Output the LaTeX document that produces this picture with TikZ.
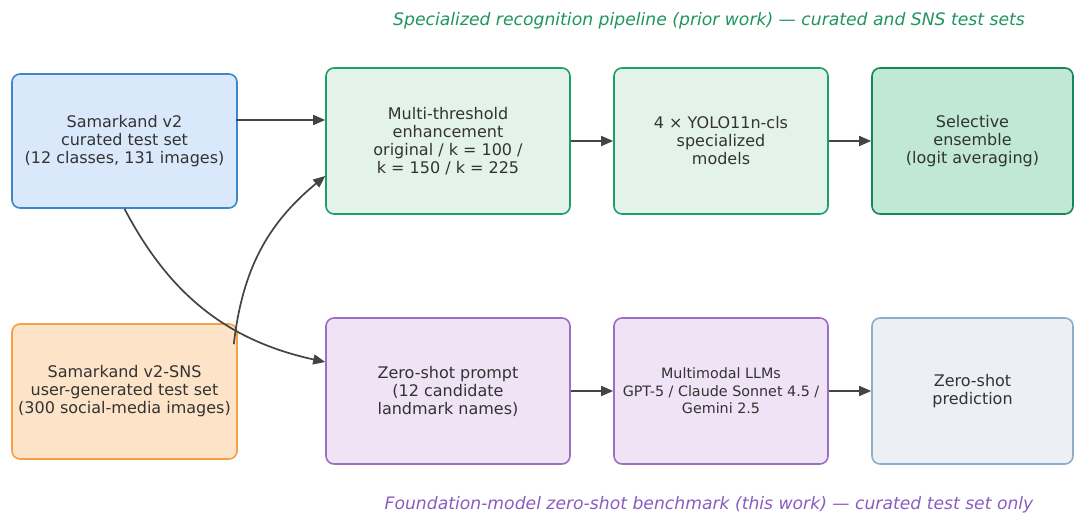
\documentclass[tikz,border=0pt]{standalone}
\usepackage{fontspec}
\setmainfont{DejaVu Sans}
\usetikzlibrary{arrows.meta}
\definecolor{txt}{HTML}{333333}
\definecolor{arr}{HTML}{444444}
\definecolor{blueF}{HTML}{DAE8FC}\definecolor{blueD}{HTML}{3D87C6}
\definecolor{orF}{HTML}{FDE3C8}\definecolor{orD}{HTML}{F5A044}
\definecolor{grF}{HTML}{E3F3EA}\definecolor{grD}{HTML}{1E9E6C}
\definecolor{gr2F}{HTML}{C0E8D4}\definecolor{gr2D}{HTML}{14875A}
\definecolor{puF}{HTML}{EFE3F5}\definecolor{puD}{HTML}{9A6FC4}
\definecolor{gyF}{HTML}{ECEFF3}\definecolor{gyD}{HTML}{8CAECB}
\definecolor{titG}{HTML}{1E9460}\definecolor{titP}{HTML}{8A5CC0}
\tikzset{
  box/.style={draw, rounded corners=8pt, line width=1.6pt, align=center, text=txt,
    font=\fontsize{16}{18}\selectfont, inner sep=0pt},
  conn/.style={draw=arr, line width=1.7pt, -{Triangle[length=12pt,width=10pt]}},
}
\begin{document}
\begin{tikzpicture}[x=1pt,y=-1pt]
\useasboundingbox (0,0) rectangle (1084,526);
\node[box, fill=blueF, draw=blueD, minimum width=225pt, minimum height=134pt] (A) at (124.5,141)
  {Samarkand v2\\curated test set\\(12 classes, 131 images)};
\node[box, fill=orF, draw=orD, minimum width=225pt, minimum height=135pt] (B) at (124.5,391.5)
  {Samarkand v2-SNS\\user-generated test set\\(300 social-media images)};
\node[box, fill=grF, draw=grD, minimum width=244pt, minimum height=146pt] (C) at (448,141)
  {Multi-threshold\\enhancement\\original / k = 100 /\\k = 150 / k = 225};
\node[box, fill=grF, draw=grD, minimum width=214pt, minimum height=146pt] (D) at (721,141)
  {4 × YOLO11n-cls\\specialized\\models};
\node[box, fill=gr2F, draw=gr2D, minimum width=201pt, minimum height=146pt] (E) at (972.5,141)
  {Selective\\ensemble\\(logit averaging)};
\node[box, fill=puF, draw=puD, minimum width=244pt, minimum height=146pt] (F) at (448,391)
  {Zero-shot prompt\\(12 candidate\\landmark names)};
\node[box, fill=puF, draw=puD, minimum width=214pt, minimum height=146pt,
  font=\fontsize{14.3}{17.5}\selectfont] (G) at (721,391)
  {Multimodal LLMs\\GPT-5 / Claude Sonnet 4.5 /\\Gemini 2.5};
\node[box, fill=gyF, draw=gyD, minimum width=201pt, minimum height=146pt] (H) at (972.5,391)
  {Zero-shot\\prediction};
\node[text=titG, font=\fontsize{17.2}{19}\selectfont\itshape] (T1) at (709,21)
  {Specialized recognition pipeline (prior work) — curated and SNS test sets};
\node[text=titP, font=\fontsize{17.2}{19}\selectfont\itshape] (T2) at (709,505)
  {Foundation-model zero-shot benchmark (this work) — curated test set only};
\draw[conn] ([xshift=-2pt,yshift=21pt]A.east) -- ([yshift=21pt]C.west);
\draw[conn] (C.east) -- (D.west);
\draw[conn] (D.east) -- (E.west);
\draw[conn] (F.east) -- (G.west);
\draw[conn] (G.east) -- (H.west);
\draw[conn] (A.south) to[bend right=25] ([yshift=29pt]F.west);
\draw[conn] ([xshift=-4pt,yshift=-21pt]B.north east) to[bend left=22] ([yshift=-35pt]C.west);
\end{tikzpicture}
\end{document}
